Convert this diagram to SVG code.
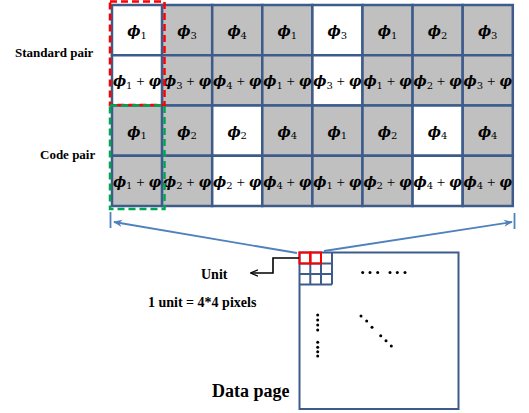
<svg xmlns="http://www.w3.org/2000/svg" width="529" height="413" viewBox="0 0 529 413">
<defs>
<style>
.cell{stroke:#3D5C8C;stroke-width:2.5}
.g{fill:#C0C0C0}
.w{fill:#FFFFFF}
.m{font-family:"DejaVu Serif","Liberation Serif",serif;font-size:14px;fill:#000;text-anchor:middle}
.ph{font-weight:bold;font-style:italic}
.sb{font-size:10px}
.pl{font-family:"Liberation Serif",serif;font-size:15px}
.lbl{font-family:"Liberation Serif","Times New Roman",serif;font-weight:bold;fill:#000}
.blue{stroke:#4F81BD;stroke-width:1.8;fill:none}
.dot{fill:#000}
</style>
<marker id="ab" viewBox="0 0 10 10" refX="9" refY="5" markerWidth="9" markerHeight="9" orient="auto" markerUnits="userSpaceOnUse">
<path d="M0,1 L10,5 L0,9 L3,5 Z" fill="#4F81BD"/>
</marker>
<marker id="ak" viewBox="0 0 10 10" refX="9" refY="5" markerWidth="8" markerHeight="8" orient="auto" markerUnits="userSpaceOnUse">
<path d="M0,1 L10,5 L0,9" fill="none" stroke="#000" stroke-width="1.6"/>
</marker>
</defs>
<rect width="529" height="413" fill="#FFFFFF"/>

<g id="labels">
<text class="lbl" x="15" y="57" font-size="13">Standard pair</text>
<text class="lbl" x="40" y="159" font-size="13">Code pair</text>
</g>

<g id="grid">
<g id="r0">
<rect class="cell w" x="112" y="5" width="50.1" height="50.25"/>
<rect class="cell g" x="162.1" y="5" width="50.1" height="50.25"/>
<rect class="cell g" x="212.2" y="5" width="50.1" height="50.25"/>
<rect class="cell g" x="262.3" y="5" width="50.1" height="50.25"/>
<rect class="cell w" x="312.4" y="5" width="50.1" height="50.25"/>
<rect class="cell g" x="362.5" y="5" width="50.1" height="50.25"/>
<rect class="cell g" x="412.6" y="5" width="50.1" height="50.25"/>
<rect class="cell g" x="462.7" y="5" width="50.1" height="50.25"/>
<text class="m" x="137" y="36"><tspan class="ph">ϕ</tspan><tspan class="sb" dy="2.5">1</tspan></text>
<text class="m" x="187.1" y="36"><tspan class="ph">ϕ</tspan><tspan class="sb" dy="2.5">3</tspan></text>
<text class="m" x="237.2" y="36"><tspan class="ph">ϕ</tspan><tspan class="sb" dy="2.5">4</tspan></text>
<text class="m" x="287.3" y="36"><tspan class="ph">ϕ</tspan><tspan class="sb" dy="2.5">1</tspan></text>
<text class="m" x="337.4" y="36"><tspan class="ph">ϕ</tspan><tspan class="sb" dy="2.5">3</tspan></text>
<text class="m" x="387.5" y="36"><tspan class="ph">ϕ</tspan><tspan class="sb" dy="2.5">1</tspan></text>
<text class="m" x="437.6" y="36"><tspan class="ph">ϕ</tspan><tspan class="sb" dy="2.5">2</tspan></text>
<text class="m" x="487.7" y="36"><tspan class="ph">ϕ</tspan><tspan class="sb" dy="2.5">3</tspan></text>
</g>
<g id="r1">
<rect class="cell w" x="112" y="55.25" width="50.1" height="50.25"/>
<rect class="cell g" x="162.1" y="55.25" width="50.1" height="50.25"/>
<rect class="cell g" x="212.2" y="55.25" width="50.1" height="50.25"/>
<rect class="cell g" x="262.3" y="55.25" width="50.1" height="50.25"/>
<rect class="cell w" x="312.4" y="55.25" width="50.1" height="50.25"/>
<rect class="cell g" x="362.5" y="55.25" width="50.1" height="50.25"/>
<rect class="cell g" x="412.6" y="55.25" width="50.1" height="50.25"/>
<rect class="cell g" x="462.7" y="55.25" width="50.1" height="50.25"/>
<text class="m" x="137" y="86"><tspan class="ph">ϕ</tspan><tspan class="sb" dy="2.5">1</tspan><tspan class="pl" dy="-2.5"> + </tspan><tspan class="ph">φ</tspan></text>
<text class="m" x="187.1" y="86"><tspan class="ph">ϕ</tspan><tspan class="sb" dy="2.5">3</tspan><tspan class="pl" dy="-2.5"> + </tspan><tspan class="ph">φ</tspan></text>
<text class="m" x="237.2" y="86"><tspan class="ph">ϕ</tspan><tspan class="sb" dy="2.5">4</tspan><tspan class="pl" dy="-2.5"> + </tspan><tspan class="ph">φ</tspan></text>
<text class="m" x="287.3" y="86"><tspan class="ph">ϕ</tspan><tspan class="sb" dy="2.5">1</tspan><tspan class="pl" dy="-2.5"> + </tspan><tspan class="ph">φ</tspan></text>
<text class="m" x="337.4" y="86"><tspan class="ph">ϕ</tspan><tspan class="sb" dy="2.5">3</tspan><tspan class="pl" dy="-2.5"> + </tspan><tspan class="ph">φ</tspan></text>
<text class="m" x="387.5" y="86"><tspan class="ph">ϕ</tspan><tspan class="sb" dy="2.5">1</tspan><tspan class="pl" dy="-2.5"> + </tspan><tspan class="ph">φ</tspan></text>
<text class="m" x="437.6" y="86"><tspan class="ph">ϕ</tspan><tspan class="sb" dy="2.5">2</tspan><tspan class="pl" dy="-2.5"> + </tspan><tspan class="ph">φ</tspan></text>
<text class="m" x="487.7" y="86"><tspan class="ph">ϕ</tspan><tspan class="sb" dy="2.5">3</tspan><tspan class="pl" dy="-2.5"> + </tspan><tspan class="ph">φ</tspan></text>
</g>
<g id="r2">
<rect class="cell g" x="112" y="105.5" width="50.1" height="50.25"/>
<rect class="cell g" x="162.1" y="105.5" width="50.1" height="50.25"/>
<rect class="cell w" x="212.2" y="105.5" width="50.1" height="50.25"/>
<rect class="cell g" x="262.3" y="105.5" width="50.1" height="50.25"/>
<rect class="cell g" x="312.4" y="105.5" width="50.1" height="50.25"/>
<rect class="cell g" x="362.5" y="105.5" width="50.1" height="50.25"/>
<rect class="cell w" x="412.6" y="105.5" width="50.1" height="50.25"/>
<rect class="cell g" x="462.7" y="105.5" width="50.1" height="50.25"/>
<text class="m" x="137" y="136.5"><tspan class="ph">ϕ</tspan><tspan class="sb" dy="2.5">1</tspan></text>
<text class="m" x="187.1" y="136.5"><tspan class="ph">ϕ</tspan><tspan class="sb" dy="2.5">2</tspan></text>
<text class="m" x="237.2" y="136.5"><tspan class="ph">ϕ</tspan><tspan class="sb" dy="2.5">2</tspan></text>
<text class="m" x="287.3" y="136.5"><tspan class="ph">ϕ</tspan><tspan class="sb" dy="2.5">4</tspan></text>
<text class="m" x="337.4" y="136.5"><tspan class="ph">ϕ</tspan><tspan class="sb" dy="2.5">1</tspan></text>
<text class="m" x="387.5" y="136.5"><tspan class="ph">ϕ</tspan><tspan class="sb" dy="2.5">2</tspan></text>
<text class="m" x="437.6" y="136.5"><tspan class="ph">ϕ</tspan><tspan class="sb" dy="2.5">4</tspan></text>
<text class="m" x="487.7" y="136.5"><tspan class="ph">ϕ</tspan><tspan class="sb" dy="2.5">4</tspan></text>
</g>
<g id="r3">
<rect class="cell g" x="112" y="155.75" width="50.1" height="50.25"/>
<rect class="cell g" x="162.1" y="155.75" width="50.1" height="50.25"/>
<rect class="cell w" x="212.2" y="155.75" width="50.1" height="50.25"/>
<rect class="cell g" x="262.3" y="155.75" width="50.1" height="50.25"/>
<rect class="cell g" x="312.4" y="155.75" width="50.1" height="50.25"/>
<rect class="cell g" x="362.5" y="155.75" width="50.1" height="50.25"/>
<rect class="cell w" x="412.6" y="155.75" width="50.1" height="50.25"/>
<rect class="cell g" x="462.7" y="155.75" width="50.1" height="50.25"/>
<text class="m" x="137" y="186.5"><tspan class="ph">ϕ</tspan><tspan class="sb" dy="2.5">1</tspan><tspan class="pl" dy="-2.5"> + </tspan><tspan class="ph">φ</tspan></text>
<text class="m" x="187.1" y="186.5"><tspan class="ph">ϕ</tspan><tspan class="sb" dy="2.5">2</tspan><tspan class="pl" dy="-2.5"> + </tspan><tspan class="ph">φ</tspan></text>
<text class="m" x="237.2" y="186.5"><tspan class="ph">ϕ</tspan><tspan class="sb" dy="2.5">2</tspan><tspan class="pl" dy="-2.5"> + </tspan><tspan class="ph">φ</tspan></text>
<text class="m" x="287.3" y="186.5"><tspan class="ph">ϕ</tspan><tspan class="sb" dy="2.5">4</tspan><tspan class="pl" dy="-2.5"> + </tspan><tspan class="ph">φ</tspan></text>
<text class="m" x="337.4" y="186.5"><tspan class="ph">ϕ</tspan><tspan class="sb" dy="2.5">1</tspan><tspan class="pl" dy="-2.5"> + </tspan><tspan class="ph">φ</tspan></text>
<text class="m" x="387.5" y="186.5"><tspan class="ph">ϕ</tspan><tspan class="sb" dy="2.5">2</tspan><tspan class="pl" dy="-2.5"> + </tspan><tspan class="ph">φ</tspan></text>
<text class="m" x="437.6" y="186.5"><tspan class="ph">ϕ</tspan><tspan class="sb" dy="2.5">4</tspan><tspan class="pl" dy="-2.5"> + </tspan><tspan class="ph">φ</tspan></text>
<text class="m" x="487.7" y="186.5"><tspan class="ph">ϕ</tspan><tspan class="sb" dy="2.5">4</tspan><tspan class="pl" dy="-2.5"> + </tspan><tspan class="ph">φ</tspan></text>
</g>
</g>

<g id="standard-pair-box">
<rect x="110" y="1.5" width="54.5" height="103.5" fill="none" stroke="#FF0000" stroke-width="2.5" stroke-dasharray="7 4"/>
</g>
<g id="code-pair-box">
<rect x="110" y="105.5" width="54.5" height="103.5" fill="none" stroke="#00A651" stroke-width="2.5" stroke-dasharray="7 4"/>
</g>

<g id="data-page">
<rect x="299.5" y="252.5" width="159" height="156.5" fill="#FFFFFF" stroke="#3D5C8C" stroke-width="2"/>
<path d="M299.5,263.5 H332 M299.5,274 H332 M299.5,284.5 H332 M310.3,252.5 V284.5 M321,252.5 V284.5 M332,252.5 V284.5" fill="none" stroke="#3D5C8C" stroke-width="2"/>
<rect x="299.5" y="252.5" width="10.8" height="11" fill="none" stroke="#FF0000" stroke-width="2"/>
<rect x="310.3" y="252.5" width="10.7" height="11" fill="none" stroke="#FF0000" stroke-width="2"/>
<circle class="dot" cx="362.7" cy="272.5" r="1.5"/>
<circle class="dot" cx="370" cy="272.5" r="1.5"/>
<circle class="dot" cx="377.7" cy="272.5" r="1.5"/>
<circle class="dot" cx="390" cy="272.5" r="1.5"/>
<circle class="dot" cx="397.3" cy="272.5" r="1.5"/>
<circle class="dot" cx="405" cy="272.5" r="1.5"/>
<circle class="dot" cx="317.7" cy="315" r="1.5"/>
<circle class="dot" cx="317.7" cy="320" r="1.5"/>
<circle class="dot" cx="317.7" cy="325" r="1.5"/>
<circle class="dot" cx="317.7" cy="330" r="1.5"/>
<circle class="dot" cx="317.7" cy="342.3" r="1.5"/>
<circle class="dot" cx="317.7" cy="347.3" r="1.5"/>
<circle class="dot" cx="317.7" cy="351.7" r="1.5"/>
<circle class="dot" cx="317.7" cy="356" r="1.5"/>
<circle class="dot" cx="361" cy="316" r="1.5"/>
<circle class="dot" cx="366.7" cy="321" r="1.5"/>
<circle class="dot" cx="372" cy="327.3" r="1.5"/>
<circle class="dot" cx="380.7" cy="335.7" r="1.5"/>
<circle class="dot" cx="386" cy="340.7" r="1.5"/>
<circle class="dot" cx="391.3" cy="346" r="1.5"/>
<text class="lbl" x="212" y="397" font-size="18">Data page</text>
</g>

<g id="unit-label">
<text class="lbl" x="201" y="279" font-size="14">Unit</text>
<text class="lbl" x="148" y="307" font-size="14">1 unit = 4*4 pixels</text>
</g>

<g id="connectors">
<path d="M110.5,212 V228 M514.5,213 V229" class="blue" stroke-width="2"/>
<line x1="297" y1="253" x2="114" y2="222" class="blue" marker-end="url(#ab)"/>
<line x1="324" y1="251" x2="512" y2="222" class="blue" marker-end="url(#ab)"/>
<polyline points="299,258 273,258 273,273 251,273" fill="none" stroke="#000" stroke-width="1.6" marker-end="url(#ak)"/>
</g>
</svg>
